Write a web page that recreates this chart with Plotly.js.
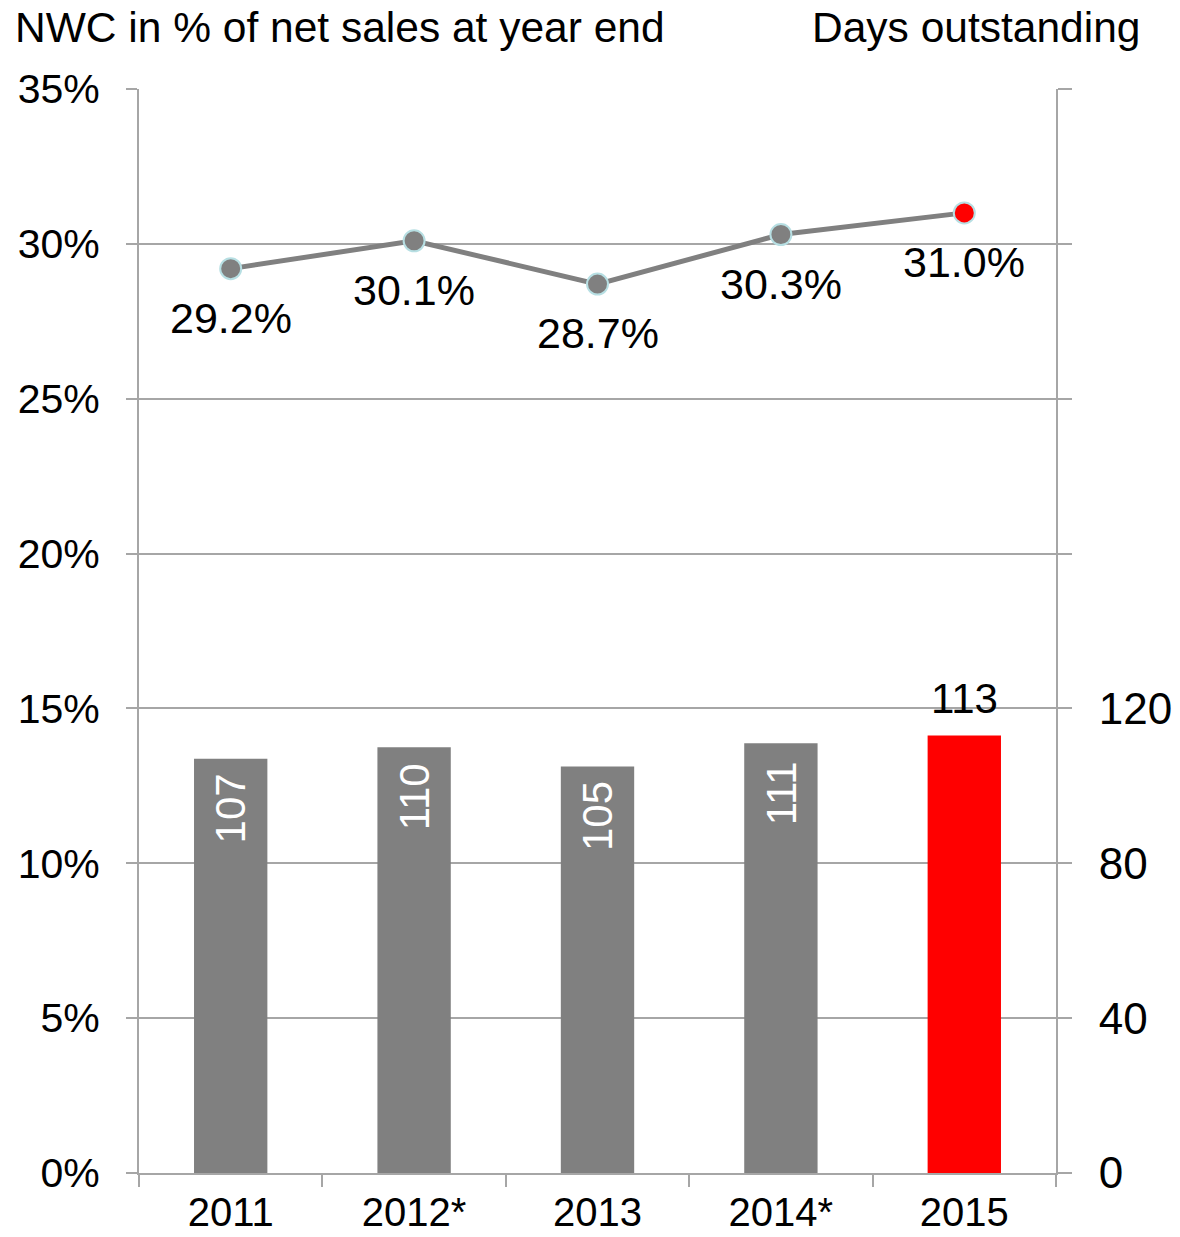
<!DOCTYPE html>
<html>
<head>
<meta charset="utf-8">
<script src="https://cdn.plot.ly/plotly-3.0.1.min.js"></script>
<style>html,body{margin:0;padding:0;background:#fff;}#chart{width:1180px;height:1237px;}</style>
</head>
<body>
<div id="chart"></div>
<script>
const years = ['2011', '2012*', '2013', '2014*', '2015'];
const nwcPct = [29.2, 30.1, 28.7, 30.3, 31.0];
const nwcLabels = ['29.2%', '30.1%', '28.7%', '30.3%', '31.0%'];
const daysYears = ['2011', '2012*', '2013', '2014*'];
const daysValues = [107, 110, 105, 111];
const daysYearsCurrent = ['2015'];
const daysValuesCurrent = [113];
const leftTickVals = [0, 5, 10, 15, 20, 25, 30, 35];
const leftTickText = ['0%', '5%', '10%', '15%', '20%', '25%', '30%', '35%'];
const rightTickVals = [0, 40, 80, 120, 160, 200, 240, 280];
const rightTickText = ['0', '40', '80', '120', '', '', '', ''];

const FONT = 'Liberation Sans, Arial, sans-serif';
const GREY = '#808080';
const RED = '#ff0000';
const AXIS = '#a6a6a6';

const traces = [
  {
    type: 'bar', x: daysYears, y: daysValues, yaxis: 'y2',
    marker: {color: GREY}, width: 0.4, hoverinfo: 'skip'
  },
  {
    type: 'bar', x: daysYearsCurrent, y: daysValuesCurrent, yaxis: 'y2',
    marker: {color: RED}, width: 0.4, hoverinfo: 'skip'
  },
  {
    type: 'scatter', mode: 'lines+markers', x: years, y: nwcPct, yaxis: 'y',
    line: {color: GREY, width: 5},
    marker: {size: 21, color: [GREY, GREY, GREY, GREY, RED], line: {color: '#b7dfe3', width: 2}},
    cliponaxis: false, hoverinfo: 'skip'
  }
];

const annotations = [];
// line data labels
years.forEach((yr, i) => annotations.push({
  x: i, y: nwcPct[i], xref: 'x', yref: 'y', text: nwcLabels[i], showarrow: false,
  xanchor: 'center', yanchor: 'middle',
  yshift: -49, font: {family: FONT, size: 43, color: '#000000'}
}));
// bar labels inside (rotated)
daysYears.forEach((yr, i) => annotations.push({
  x: years.indexOf(yr), y: daysValues[i], xref: 'x', yref: 'y2', text: String(daysValues[i]),
  showarrow: false, textangle: -90, xanchor: 'center', yanchor: 'middle',
  yshift: -50, font: {family: FONT, size: 42, color: '#ffffff'}
}));
// current-year bar label above
daysYearsCurrent.forEach((yr, i) => annotations.push({
  x: years.indexOf(yr), y: daysValuesCurrent[i], xref: 'x', yref: 'y2', text: String(daysValuesCurrent[i]),
  showarrow: false, xanchor: 'center', yanchor: 'middle',
  yshift: 37, font: {family: FONT, size: 42, color: '#000000'}
}));
annotations.push({
  xref: 'paper', yref: 'paper', x: (1142 - 139) / 917, y: (1173 - 27) / 1084,
  xanchor: 'right', yanchor: 'middle', text: 'Days outstanding', showarrow: false,
  font: {family: FONT, size: 42.5, color: '#000000'}
});

const layout = {
  width: 1180, height: 1237,
  margin: {l: 139, r: 124, t: 89, b: 64},
  paper_bgcolor: '#ffffff', plot_bgcolor: '#ffffff',
  showlegend: false, barmode: 'overlay',
  font: {family: FONT, size: 42, color: '#000000'},
  title: {
    text: 'NWC in % of net sales at year end',
    x: 15 / 1180, xanchor: 'left', xref: 'container',
    y: 1 - 27 / 1237, yanchor: 'middle', yref: 'container',
    font: {family: FONT, size: 42.5, color: '#000000'}
  },
  xaxis: {
    type: 'category', categoryorder: 'array', categoryarray: years,
    range: [-0.5, 4.5], autorange: false, fixedrange: true,
    showline: true, linecolor: AXIS, linewidth: 2,
    ticks: 'outside', tickson: 'boundaries', ticklen: 12, tickcolor: AXIS, tickwidth: 2,
    showgrid: false, zeroline: false, tickangle: 0,
    ticklabelstandoff: 3,
    tickfont: {family: FONT, size: 40, color: '#000000'}
  },
  yaxis: {
    range: [0, 35], autorange: false, tickvals: leftTickVals, ticktext: leftTickText,
    showline: true, linecolor: AXIS, linewidth: 2,
    ticks: 'outside', ticklen: 11, tickcolor: AXIS, tickwidth: 2,
    showgrid: true, gridcolor: AXIS, gridwidth: 2, zeroline: false,
    ticklabelstandoff: 18,
    tickfont: {family: FONT, size: 41, color: '#000000'}
  },
  yaxis2: {
    overlaying: 'y', side: 'right', range: [0, 280], autorange: false,
    tickvals: rightTickVals, ticktext: rightTickText,
    showline: true, linecolor: AXIS, linewidth: 2,
    ticks: 'outside', ticklen: 14, tickcolor: AXIS, tickwidth: 2,
    showgrid: false, zeroline: false,
    ticklabelstandoff: 18,
    tickfont: {family: FONT, size: 44, color: '#000000'}
  },
  annotations: annotations
};

Plotly.newPlot('chart', traces, layout, {displayModeBar: false, staticPlot: true});
</script>
</body>
</html>
